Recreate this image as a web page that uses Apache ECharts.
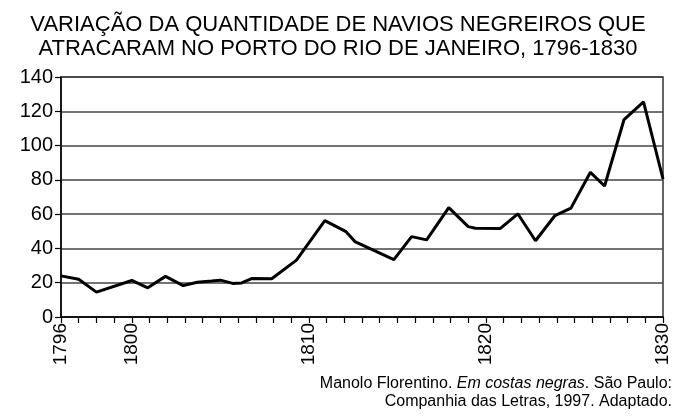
<!DOCTYPE html>
<html>
<head>
<meta charset="utf-8">
<script src="https://cdn.jsdelivr.net/npm/echarts@6/dist/echarts.min.js"></script>
<style>
  html, body { margin: 0; padding: 0; background: #fff; }
  #chart { width: 676px; height: 416px; }
</style>
</head>
<body>
<div id="chart"></div>
<script>
// years (some bends fall between ticks)
const years = [
  1796.0, 1797.0, 1798.0, 1800.0, 1800.9, 1801.9, 1802.9, 1803.7, 1804.5,
  1805.0, 1805.7, 1806.2, 1806.8, 1807.9, 1809.3, 1810.9, 1812.1, 1812.6,
  1814.8, 1815.8, 1816.65, 1817.9, 1819.0, 1819.4, 1820.8, 1821.8, 1822.8,
  1823.9, 1824.8, 1825.9, 1826.7, 1827.8, 1828.9, 1830.0,
];
const ships = [
  24, 22, 14.5, 21.3, 17, 23.7, 18.3, 20.3, 21,
  21.5, 19.6, 19.9, 22.5, 22.3, 33.2, 56.2, 49.8, 44,
  33.5, 46.9, 45, 63.8, 52.7, 51.8, 51.6, 60.2, 44.5,
  59.2, 63.5, 84.4, 76.4, 115.2, 125.5, 80.5,
];
const yearLabels = [1796, 1800, 1810, 1820, 1830];

const chart = echarts.init(document.getElementById("chart"));
const font = "'Liberation Sans', Arial, sans-serif";

chart.setOption({
  animation: false,
  title: {
    text: "VARIAÇÃO DA QUANTIDADE DE NAVIOS NEGREIROS QUE\nATRACARAM NO PORTO DO RIO DE JANEIRO, 1796-1830",
    left: "center",
    top: 8,
    textStyle: {
      fontFamily: font,
      fontSize: 22,
      fontWeight: "normal",
      color: "#000",
      lineHeight: 24,
      align: "center",
    },
  },
  grid: {
    left: 61,
    right: 13,
    top: 77,
    bottom: 99,
    show: true,
    borderColor: "#333",
    borderWidth: 1.5,
  },
  xAxis: {
    type: "value",
    min: 1796,
    max: 1830,
    interval: 1,
    axisLine: { lineStyle: { color: "#000", width: 1.5 } },
    axisTick: { length: 6, lineStyle: { color: "#000", width: 1.2 } },
    splitLine: { show: false },
    axisLabel: {
      rotate: 90,
      margin: 6,
      color: "#000",
      fontFamily: font,
      fontSize: 19,
      showMaxLabel: true,
      showMinLabel: true,
      formatter: (v) => (yearLabels.includes(Math.round(v)) ? String(Math.round(v)) : ""),
    },
  },
  yAxis: {
    type: "value",
    min: 0,
    max: 140,
    interval: 20,
    axisLine: { show: true, lineStyle: { color: "#000", width: 1.5 } },
    axisTick: { show: true, length: 6, lineStyle: { color: "#000", width: 1.2 } },
    splitLine: { lineStyle: { color: "#444", width: 1.5 } },
    axisLabel: {
      margin: 8,
      color: "#000",
      fontFamily: font,
      fontSize: 20,
    },
  },
  series: [
    {
      type: "line",
      data: years.map((y, i) => [y, ships[i]]),
      showSymbol: false,
      lineStyle: { color: "#000", width: 3 },
    },
  ],
  graphic: [
    {
      type: "text",
      right: 4,
      top: 376,
      style: {
        text: "{n|Manolo Florentino. }{i|Em costas negras}{n|. São Paulo:}",
        rich: {
          n: { fontFamily: font, fontSize: 16, fill: "#000" },
          i: { fontFamily: font, fontSize: 16, fontStyle: "italic", fill: "#000" },
        },
      },
    },
    {
      type: "text",
      right: 4,
      top: 394,
      style: {
        text: "Companhia das Letras, 1997. Adaptado.",
        fontFamily: font,
        fontSize: 16,
        fill: "#000",
      },
    },
  ],
});
</script>
</body>
</html>
